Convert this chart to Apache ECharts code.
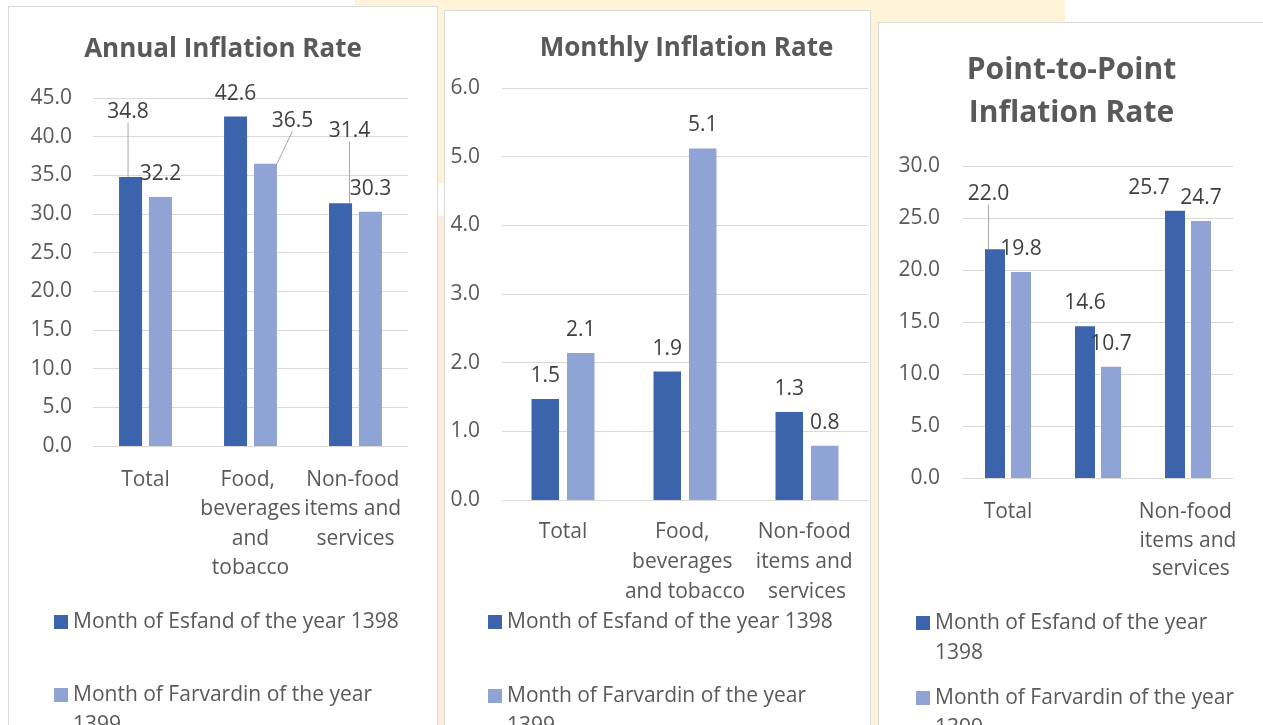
<!DOCTYPE html>
<html><head><meta charset="utf-8">
<script src="https://cdn.jsdelivr.net/npm/echarts@6/dist/echarts.min.js"></script>
<style>
html,body{margin:0;padding:0;width:1263px;height:725px;overflow:hidden;background:#fff;}
.bg{position:absolute;}
.panel{position:absolute;background:#fff;border:1px solid #d9d9d9;box-sizing:border-box;}
#chart{position:absolute;left:0;top:0;width:1263px;height:725px;}
</style></head><body>
<div class="bg" style="left:355px;top:0;width:710px;height:30px;background:#FFF3DA;"></div>
<div class="bg" style="left:430px;top:0;width:460px;height:725px;background:#FFF3DA;"></div>
<div class="bg" style="left:430px;top:183px;width:20px;height:33px;background:#fff;"></div>
<div class="bg" style="left:430px;top:216px;width:20px;height:509px;background:#FDEBDC;"></div>
<div class="panel" style="left:8px;top:6px;width:430px;height:800px;"></div>
<div class="panel" style="left:444px;top:10px;width:427px;height:800px;"></div>
<div class="panel" style="left:878px;top:22px;width:420px;height:800px;"></div>
<div id="chart"></div>
<script>
// ---- data ----
const categories = ['Total', 'Food, beverages and tobacco', 'Non-food items and services'];
const seriesNames = ['Month of Esfand of the year 1398', 'Month of Farvardin of the year 1399'];
const titles = ['Annual Inflation Rate', 'Monthly Inflation Rate', 'Point-to-Point\nInflation Rate'];
const annualEsfand = [34.8, 42.6, 31.4];
const annualFarvardin = [32.2, 36.5, 30.3];
const monthlyEsfand = [1.47, 1.87, 1.28];
const monthlyFarvardin = [2.14, 5.12, 0.79];
const p2pEsfand = [22.0, 14.6, 25.7];
const p2pFarvardin = [19.8, 10.7, 24.7];
const annualAxis = [0, 45, 5];   // min, max, interval
const monthlyAxis = [0, 6, 1];
const p2pAxis = [0, 30, 5];

// ---- styling / layout ----
const FONT = 'Open Sans';
const DARK = '#3B64AD', LIGHT = '#8FA4D4';
const TXT = '#595959', LBL = '#404040', GRID = '#D9D9D9';

const panels = [
  { data: [annualEsfand, annualFarvardin], axis: annualAxis, title: titles[0],
    grid: { left: 93, top: 98, width: 315, height: 348 },
    t: { x: 223, y: 50, size: 26, lh: 32 },
    barWidth: 23, barGap: '30%', xW: 104, xLH: 29.5, xMargin: 19, yMargin: 21, interval: 0,
    offsets: [[[-2.5, -42], [0, 0], [9, -49]], [[0, 0], [27, -20], [0, 0]]],
    lines: [[1, 0, 1], [0, 1, 0]],
    legends: [{ left: 54, top: 607, wrap: false }, { left: 54, top: 650, wrap: true }], legW: 340 },
  { data: [monthlyEsfand, monthlyFarvardin], axis: monthlyAxis, title: titles[1],
    grid: { left: 502, top: 88, width: 366, height: 412 },
    t: { x: 686.5, y: 49, size: 26, lh: 32 },
    barWidth: 27.5, barGap: '29%', xW: 125, xLH: 30, xMargin: 17, yMargin: 22, interval: 0,
    offsets: [[[0, 0], [0, 0], [0, 0]], [[0, 0], [0, 0], [0, 0]]],
    lines: [[0, 0, 0], [0, 0, 0]],
    legends: [{ left: 488, top: 607, wrap: false }, { left: 488, top: 651, wrap: true }], legW: 340 },
  { data: [p2pEsfand, p2pFarvardin], axis: p2pAxis, title: titles[2],
    grid: { left: 963, top: 166, width: 270, height: 312 },
    t: { x: 1071.5, y: 91.5, size: 30, lh: 43 },
    barWidth: 20, barGap: '30%', xW: 100, xLH: 28.5, xMargin: 20, yMargin: 23, interval: (i) => i !== 1,
    offsets: [[[-6.5, -32], [0, 0], [-26, 0]], [[0, 0], [0, 0], [0, 0]]],
    lines: [[1, 0, 0], [0, 0, 0]],
    legends: [{ left: 916, top: 578, wrap: true }, { left: 916, top: 653, wrap: true }], legW: 310 }
];

const option = { animation: false, title: [], grid: [], xAxis: [], yAxis: [], legend: [], series: [] };

panels.forEach((p, i) => {
  option.title.push({
    text: p.title, left: p.t.x, top: p.t.y, textAlign: 'center', textVerticalAlign: 'middle', padding: 0,
    textStyle: { fontFamily: FONT, fontWeight: 'bold', fontSize: p.t.size, color: TXT, lineHeight: p.t.lh }
  });
  option.grid.push(Object.assign({ containLabel: false }, p.grid));
  option.xAxis.push({
    type: 'category', gridIndex: i, data: categories,
    axisTick: { show: false },
    axisLine: { show: true, lineStyle: { color: GRID, width: 1 } },
    axisLabel: { interval: p.interval, fontFamily: FONT, fontSize: 21, color: TXT, width: p.xW, overflow: 'break',
      lineHeight: p.xLH, margin: p.xMargin }
  });
  option.yAxis.push({
    type: 'value', gridIndex: i, min: p.axis[0], max: p.axis[1], interval: p.axis[2],
    axisLine: { show: false }, axisTick: { show: false },
    splitLine: { lineStyle: { color: GRID, width: 1 } },
    axisLabel: { formatter: v => v.toFixed(1), fontFamily: FONT, fontSize: 21, color: TXT, margin: p.yMargin,
      padding: [4, 0, 0, 0] }
  });
  p.legends.forEach((lg, s) => {
    option.legend.push({
      data: [seriesNames[s]], left: lg.left, top: lg.top, orient: 'vertical', padding: 0,
      icon: 'rect', itemWidth: 14, itemHeight: 14, selectedMode: false,
      formatter: lg.wrap ? (n => '\n' + n) : (n => n),
      textStyle: { fontFamily: FONT, fontSize: 21, color: TXT, lineHeight: 30, width: p.legW, overflow: 'break' }
    });
  });
  [0, 1].forEach(s => {
    option.series.push({
      type: 'bar', name: seriesNames[s], xAxisIndex: i, yAxisIndex: i,
      barWidth: p.barWidth, barGap: p.barGap,
      itemStyle: { color: s ? LIGHT : DARK },
      label: { show: true, position: 'top', distance: 12.5, fontFamily: FONT, fontSize: 21, color: LBL,
        formatter: d => Number(d.value).toFixed(1) },
      labelLine: { show: false, lineStyle: { color: '#A6A6A6', width: 1 } },
      labelLayout: params => { const o = p.offsets[s][params.dataIndex]; return { dx: o[0], dy: o[1] }; },
      data: p.data[s].map((v, j) => ({ value: v, labelLine: { show: !!p.lines[s][j], lineStyle: { color: '#A6A6A6', width: 1 } } }))
    });
  });
});

const chart = echarts.init(document.getElementById('chart'), null, { renderer: 'canvas' });
chart.setOption(option);
</script>
</body></html>
